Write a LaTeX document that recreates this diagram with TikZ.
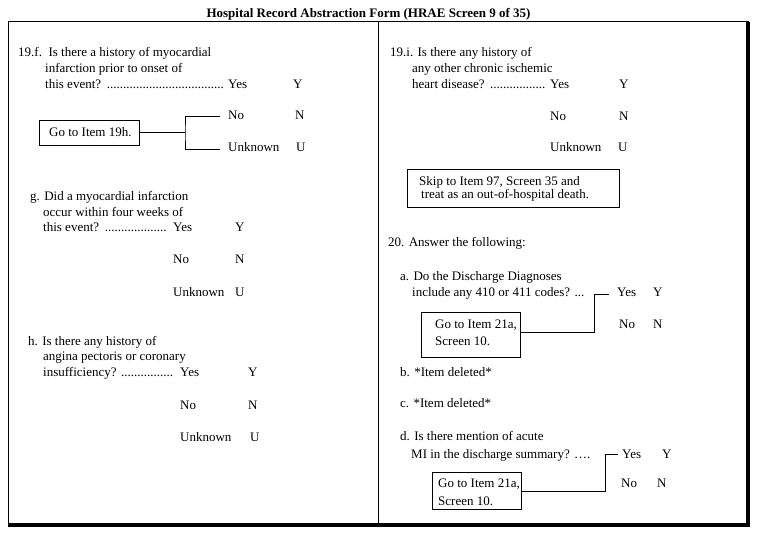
\documentclass[tikz,border=0pt]{standalone}
\usepackage{fontspec}
\setmainfont{Liberation Serif}
\newcommand\leadto[2]{\makebox[#1][l]{#2\ \leaders\hbox{.}\hfill\hspace*{4pt}}}
\begin{document}
\begin{tikzpicture}[x=1pt,y=-1pt,
  txt/.style={anchor=base west,inner sep=0pt,font=\fontsize{13}{15}\selectfont},
  ttl/.style={anchor=base,inner sep=0pt,font=\fontsize{13}{15}\selectfont\bfseries},
  gobox/.style={draw,line width=0.8pt},
  conn/.style={line width=0.8pt},
  frame/.style={line width=1pt}]
\useasboundingbox (0,0) rectangle (758,537);
% title and frame
\node[ttl] (title) at (368.5,18) {Hospital Record Abstraction Form (HRAE Screen 9 of 35)};
\draw[frame] (8,22) rectangle (748,525);
\draw[line width=4pt] (748,22) -- (748,527);
\draw[line width=4pt] (8,525) -- (750,525);
\draw[frame] (378,22) -- (378,525);
% ---- 19.f
\node[txt] (f1) at (18,57) {19.f.\ \ Is there a history of myocardial};
\node[txt] (f2) at (45,73) {infarction prior to onset of};
\node[txt] (f3) at (45,89) {\leadto{183pt}{this event?}};
\node[txt] (fyes) at (228,89) {Yes};
\node[txt] (fY) at (293,89) {Y};
\node[txt] (fno) at (228,120) {No};
\node[txt] (fN) at (295,120) {N};
\node[txt] (funk) at (228,152) {Unknown};
\node[txt] (fU) at (296,152) {U};
\node[gobox,minimum width=100pt,minimum height=25pt,inner sep=0pt] (b19h) at (89,132.5) {};
\node[txt] (b19htxt) at (49,137) {Go to Item 19h.};
\coordinate (fbr) at (185,132.5);
\coordinate (fnoend) at (220,116);
\coordinate (funkend) at (220,149);
\draw[conn] (b19h.east) -- (fbr);
\draw[conn] (fnoend) -| (fbr) |- (funkend);
% ---- g
\node[txt] (g1) at (30,201) {g. Did a myocardial infarction};
\node[txt] (g2) at (43,217) {occur within four weeks of};
\node[txt] (g3) at (43,232) {\leadto{130pt}{this event?}};
\node[txt] (gyes) at (173,232) {Yes};
\node[txt] (gY) at (235,232) {Y};
\node[txt] (gno) at (173,264) {No};
\node[txt] (gN) at (235,264) {N};
\node[txt] (gunk) at (173,297) {Unknown};
\node[txt] (gU) at (235,297) {U};
% ---- h
\node[txt] (h1) at (28,346) {h. Is there any history of};
\node[txt] (h2) at (43,361) {angina pectoris or coronary};
\node[txt] (h3) at (43,377) {\leadto{137pt}{insufficiency?}};
\node[txt] (hyes) at (180,377) {Yes};
\node[txt] (hY) at (248,377) {Y};
\node[txt] (hno) at (180,409) {No};
\node[txt] (hN) at (248,409) {N};
\node[txt] (hunk) at (180,441) {Unknown};
\node[txt] (hU) at (250,441) {U};
% ---- 19.i
\node[txt] (i1) at (390,57) {19.i. Is there any history of};
\node[txt] (i2) at (412,73) {any other chronic ischemic};
\node[txt] (i3) at (412,89) {\leadto{138pt}{heart disease?}};
\node[txt] (iyes) at (550,89) {Yes};
\node[txt] (iY) at (619,89) {Y};
\node[txt] (ino) at (550,121) {No};
\node[txt] (iN) at (619,121) {N};
\node[txt] (iunk) at (550,152) {Unknown};
\node[txt] (iU) at (618,152) {U};
\node[gobox,minimum width=212pt,minimum height=38pt,inner sep=0pt] (skip) at (513,188) {};
\node[txt] (skip1) at (419,186) {Skip to Item 97, Screen 35 and};
\node[txt] (skip2) at (421,199) {treat as an out-of-hospital death.};
% ---- 20
\node[txt] (t20) at (388,247) {20. Answer the following:};
\node[txt] (a1) at (400,281) {a. Do the Discharge Diagnoses};
\node[txt] (a2) at (412,297) {include any 410 or 411 codes? ...};
\node[txt] (ayes) at (617,297) {Yes};
\node[txt] (aY) at (653,297) {Y};
\node[txt] (ano) at (619,329) {No};
\node[txt] (aN) at (653,329) {N};
\node[gobox,minimum width=99pt,minimum height=45pt,inner sep=0pt] (abox) at (470.5,334.5) {};
\node[txt] (abox1) at (435,329) {Go to Item 21a,};
\node[txt] (abox2) at (435,345) {Screen 10.};
\coordinate (abr) at (594,332);
\coordinate (ayesend) at (609,294);
\draw[conn] (abox.east |- abr) -- (abr) |- (ayesend);
\node[txt] (b) at (400,377) {b. *Item deleted*};
\node[txt] (c) at (400,407) {c. *Item deleted*};
\node[txt] (d1) at (400,440) {d. Is there mention of acute};
\node[txt] (d2) at (411,458) {MI in the discharge summary? ….};
\node[txt] (dyes) at (622,458) {Yes};
\node[txt] (dY) at (662,458) {Y};
\node[txt] (dno) at (621,487) {No};
\node[txt] (dN) at (657,487) {N};
\node[gobox,minimum width=89pt,minimum height=37pt,inner sep=0pt] (dbox) at (476.5,490.5) {};
\node[txt] (dbox1) at (438,487) {Go to Item 21a,};
\node[txt] (dbox2) at (438,505) {Screen 10.};
\coordinate (dbr) at (605,491);
\coordinate (dyesend) at (618,454);
\draw[conn] (dbox.east |- dbr) -- (dbr) |- (dyesend);
\end{tikzpicture}
\end{document}
